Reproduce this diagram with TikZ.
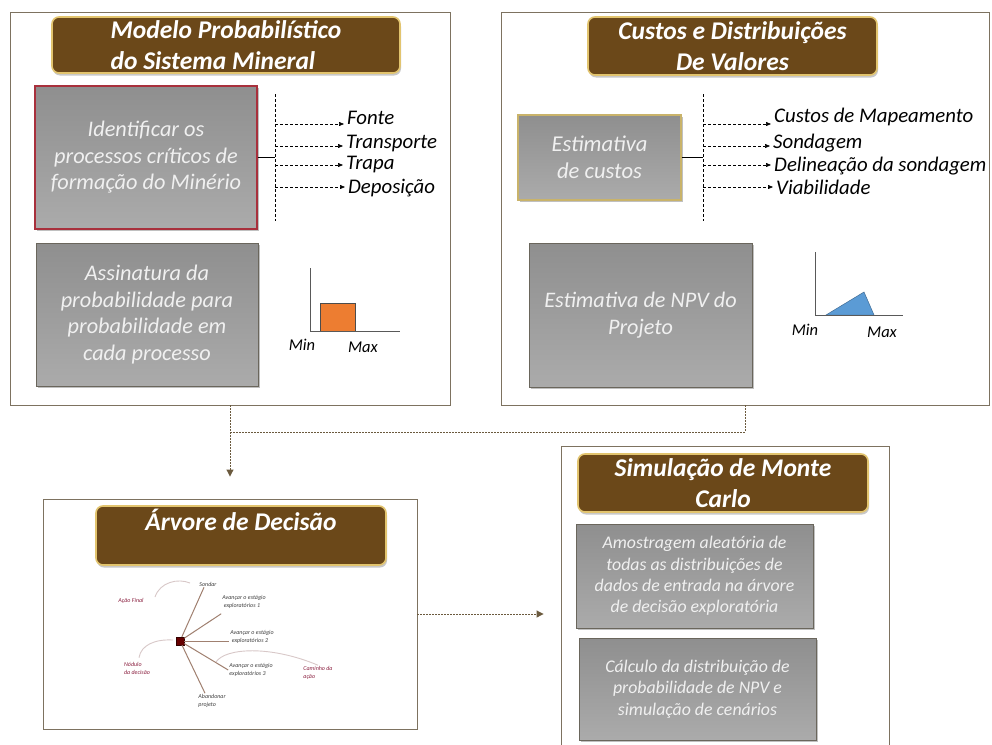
\documentclass[tikz,border=0pt]{standalone}
\usepackage{fontspec}
\setmainfont{Carlito}
\usetikzlibrary{arrows.meta,shadows,calc}
\definecolor{brownc}{HTML}{6B4819}
\definecolor{goldc}{HTML}{E2C46E}
\definecolor{panelc}{HTML}{7D7260}
\definecolor{connc}{HTML}{6B5A3E}
\definecolor{gtext}{HTML}{F0F0F0}
\definecolor{gboxc}{HTML}{6A665C}
\definecolor{redc}{HTML}{A8303C}
\definecolor{yelc}{HTML}{C9B36A}
\definecolor{orangec}{HTML}{ED7D31}
\definecolor{bluec}{HTML}{5B9BD5}
\definecolor{treel}{HTML}{A08070}
\definecolor{treer}{HTML}{8B2040}
\definecolor{curvec}{HTML}{D8C8C8}
\newcommand\fsz[2]{\fontsize{#1}{#2}\selectfont}
\begin{document}
\begin{tikzpicture}[x=1pt,y=-1pt,
  panel/.style={draw=panelc, line width=0.9pt, fill=white, inner sep=0pt},
  titlebox/.style={rounded corners=7pt, fill=brownc, draw=goldc, line width=1.6pt,
    text=white, font=\bfseries\itshape\fsz{25.5}{31.5}, align=center, inner sep=0pt,
    drop shadow={shadow xshift=1pt, shadow yshift=-2.5pt, opacity=0.3, fill=black!70}},
  graybox/.style={draw=gboxc, line width=0.8pt, top color=black!44, bottom color=black!33,
    text=gtext, font=\itshape\fsz{22.3}{26.5}, align=center, inner sep=0pt,
    drop shadow={shadow xshift=1.5pt, shadow yshift=-1.5pt, opacity=0.35, fill=black!70}},
  lab/.style={font=\itshape\fsz{20.8}{22}, anchor=west, inner xsep=3pt, inner ysep=1pt},
  darr/.style={densely dashed, line width=0.6pt, -{Triangle[length=5pt,width=4pt]}},
  dline/.style={densely dashed, line width=0.6pt},
  conn/.style={draw=connc, line width=1pt, dash pattern=on 2pt off 1pt},
  connarr/.style={conn, -{Triangle[length=7pt,width=7pt]}},
  axis/.style={draw=black!65, line width=1pt},
  minmax/.style={font=\itshape\fsz{16.5}{18}, inner sep=0pt},
  tlab/.style={font=\itshape\fsz{6}{8}, text=black!75, align=left, inner sep=1pt},
  rlab/.style={font=\itshape\fsz{6}{8}, text=treer, align=left, inner sep=1pt},
  tline/.style={draw=treel, line width=1pt},
  tcurve/.style={draw=curvec, line width=0.9pt}
]
\useasboundingbox (0,0) rectangle (992,744);
\fill[white] (0,0) rectangle (992,744);

% ---------- panels ----------
\node[panel, minimum width=440pt, minimum height=393pt] (P1) at (230,208.5) {};
\node[panel, minimum width=488pt, minimum height=393pt] (P2) at (745,208.5) {};
\node[panel, minimum width=374pt, minimum height=230pt] (P3) at (230,614) {};
\node[panel, minimum width=328pt, minimum height=320pt] (P4) at (725,606) {};

% ---------- titles ----------
\node[titlebox, minimum width=348pt, minimum height=56pt, align=left] (T1) at (226,45)
  {Modelo Probabilístico\\do Sistema Mineral};
\node[titlebox, minimum width=289pt, minimum height=58pt] (T2) at (732.5,46)
  {Custos e Distribuições\\De Valores};
\node[titlebox, minimum width=290pt, minimum height=59pt] (T3) at (241,535.5)
  {Árvore de Decisão\\\mbox{}};
\node[titlebox, minimum width=290pt, minimum height=58pt] (T4) at (723,483)
  {Simulação de Monte\\Carlo};

% ---------- gray boxes ----------
\node[graybox, draw=redc, line width=1.1pt, minimum width=222pt, minimum height=143pt] (G1) at (146,157.5)
  {Identificar os\\processos críticos de\\formação do Minério};
\node[graybox, minimum width=222pt, minimum height=143pt] (G2) at (147,314.5)
  {Assinatura da\\probabilidade para\\probabilidade em\\cada processo};
\node[graybox, draw=yelc, line width=1.1pt, minimum width=163pt, minimum height=85pt, font=\itshape\fsz{22.6}{27}] (G3) at (599.5,157.5)
  {Estimativa\\de custos};
\node[graybox, minimum width=223pt, minimum height=144pt, font=\itshape\fsz{22.2}{27}] (G4) at (640.5,315)
  {Estimativa de NPV do\\Projeto};
\node[graybox, minimum width=237pt, minimum height=104pt, font=\itshape\fsz{17.8}{21.3}] (G5) at (694.5,576)
  {Amostragem aleatória de\\todas as distribuições de\\dados de entrada na árvore\\de decisão exploratória};
\node[graybox, minimum width=237pt, minimum height=102pt, font=\itshape\fsz{17.8}{21.3}] (G6) at (697.5,689)
  {Cálculo da distribuição de\\probabilidade de NPV e\\simulação de cenários};

% ---------- left process list ----------
\coordinate (v1t) at (275,94);
\coordinate (v1b) at (275,221);
\draw[line width=0.7pt] (G1.east) -- (G1.east -| v1t);
\draw[dline] (v1t) -- (v1b);
\node[lab] (f1) at (344,118) {Fonte};
\node[lab] (f2) at (343,144) {Transporte};
\node[lab] (f3) at (343,165) {Trapa};
\node[lab] (f4) at (345,188) {Deposição};
\draw[darr] (v1t |- 0,124) -- ([yshift=-6pt]f1.west);
\draw[darr] (v1t |- 0,146) -- ([yshift=-2pt]f2.west);
\draw[darr] (v1t |- f3.west) -- (f3.west);
\draw[darr] (v1t |- 0,187) -- ([yshift=1pt]f4.west);

% ---------- right cost list ----------
\coordinate (v2t) at (703,94);
\coordinate (v2b) at (703,221);
\draw[line width=0.7pt] (G3.east) -- (G3.east -| v2t);
\draw[dline] (v2t) -- (v2b);
\node[lab] (c1) at (771,117) {Custos de Mapeamento};
\node[lab] (c2) at (770,143) {Sondagem};
\node[lab] (c3) at (771,166) {Delineação da sondagem};
\node[lab] (c4) at (773,187) {Viabilidade};
\draw[darr] (v2t |- 0,124) -- ([yshift=-7pt]c1.west);
\draw[darr] (v2t |- 0,146) -- ([yshift=-3pt]c2.west);
\draw[darr] (v2t |- 0,165) -- ([yshift=1pt]c3.west);
\draw[darr] (v2t |- c4.west) -- (c4.west);

% ---------- uniform chart ----------
\fill[orangec, draw=black!70, line width=0.8pt] (320,303) rectangle (355,331);
\draw[axis] (310,268) -- (310,331) -- (400,331);
\node[minmax] (mn1) at (302,345) {Min};
\node[minmax] (mx1) at (363,347) {Max};

% ---------- triangular chart ----------
\fill[bluec, draw=bluec!70!black, line width=0.5pt] (826,315) -- (864,292) -- (874,315) -- cycle;
\draw[axis] (815,252) -- (815,315) -- (903,315);
\node[minmax] (mn2) at (805,330) {Min};
\node[minmax] (mx2) at (882,332) {Max};

% ---------- flow connectors ----------
\draw[conn] (P2.south) |- (P1.south |- 0,432);
\draw[connarr, shorten >=22pt] (P1.south) -- (P1.south |- P3.north);
\draw[connarr, shorten >=17pt] (P3.east) -- (P3.east -| P4.west);

% ---------- decision tree ----------
\node[draw=black!80!red, fill=black!60!red, minimum size=8pt, inner sep=0pt] (ds) at (180,641) {};
\node[tlab] (sd) at (208,584) {Sondar};
\node[tlab] (a1) at (244,602) {Avançar o estágio\\\ exploratórios 1};
\node[tlab] (a2) at (252,637) {Avançar o estágio\\\ exploratórios 2};
\node[tlab] (a3) at (251,670) {Avançar o estágio\\exploratórios 3};
\node[tlab] (ab) at (212,701) {Abandonar\\projeto};
\draw[tline] (ds) -- ([xshift=-4pt]sd.south);
\draw[tline] (ds) -- ([yshift=-4pt]a1.south west);
\draw[tline] (ds) -- ([yshift=-4pt]a2.west);
\draw[tline] (ds) -- (a3.west);
\draw[tline] (ds) -- ([xshift=-7pt]ab.north);
\node[rlab] (af) at (131,601) {Ação Final};
\node[rlab] (nd) at (137,668) {Nódulo\\da decisão};
\node[rlab] (cm) at (318,673) {Caminho da\\ação};
\coordinate (e1) at (190,583);
\coordinate (e2) at (173,640);
\coordinate (e3) at (216,662);
\draw[tcurve] (155,597) .. controls (160,582) and (178,578) .. (e1);
\draw[tcurve] (nd.north) ++(2,-3) .. controls (141,645) and (155,639) .. (e2);
\draw[tcurve] (e3) .. controls (225,648) and (270,645) .. (cm.north);
\end{tikzpicture}
\end{document}
